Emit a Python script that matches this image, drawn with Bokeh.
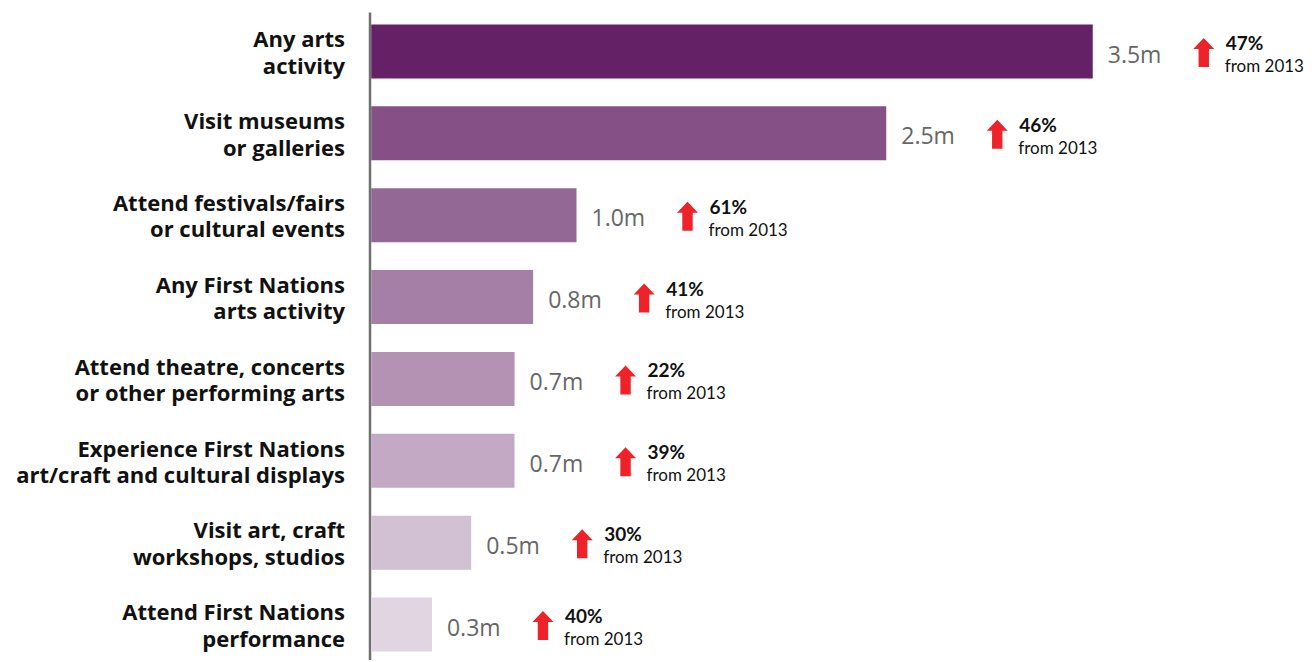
from bokeh.plotting import figure
from bokeh.models import Range1d, ColumnDataSource
from bokeh.core.properties import value
from bokeh.embed import file_html
from bokeh.resources import INLINE

categories = [
    "Any arts\nactivity",
    "Visit museums\nor galleries",
    "Attend festivals/fairs\nor cultural events",
    "Any First Nations\narts activity",
    "Attend theatre, concerts\nor other performing arts",
    "Experience First Nations\nart/craft and cultural displays",
    "Visit art, craft\nworkshops, studios",
    "Attend First Nations\nperformance",
]
values = [3.5, 2.5, 1.0, 0.79, 0.70, 0.70, 0.49, 0.30]
value_labels = ["3.5m", "2.5m", "1.0m", "0.8m", "0.7m", "0.7m", "0.5m", "0.3m"]
growth = ["47%", "46%", "61%", "41%", "22%", "39%", "30%", "40%"]
growth_note = "from 2013"
colors = ["#652165", "#855085", "#946895", "#A67FA6",
          "#B492B3", "#C3A9C4", "#D2C1D3", "#E0D5E1"]

W, H = 1310, 660
SX = 206.5          # px per million
SY = 81.86          # px per row
X0 = 369.5          # canvas px of zero
Y0 = 51.0           # canvas px of first row centre

n = len(values)
ys = list(range(n))

p = figure(width=W, height=H, output_backend="svg", toolbar_location=None,
           x_range=Range1d(-X0 / SX, (W - X0) / SX),
           y_range=Range1d((H - Y0) / SY, -Y0 / SY),
           min_border=0, min_border_left=0, min_border_right=0,
           min_border_top=0, min_border_bottom=0)
p.axis.visible = False
p.grid.visible = False
p.outline_line_color = None
p.background_fill_color = "white"
p.border_fill_color = "white"

# vertical axis line
p.segment(x0=[0], y0=[-(Y0 - 12) / SY], x1=[0], y1=[(H - Y0) / SY],
          line_color="#707070", line_width=2.5)

src = ColumnDataSource(dict(y=ys, v=values, c=colors, cat=categories,
                            vl=value_labels, g=growth,
                            note=[growth_note] * n))

p.hbar(y="y", left=0.006, right="v", height=54 / SY, fill_color="c",
       line_color=None, source=src)

# category labels
p.text(x=0, y="y", text="cat", source=src, x_offset=-25,
       text_align="right", text_baseline="middle",
       text_font=value("Open Sans"), text_font_style="bold",
       text_font_size="22px", text_color="#111111", text_line_height=0.88)

# value labels
p.text(x="v", y="y", text="vl", source=src, x_offset=15, y_offset=2,
       text_align="left", text_baseline="middle",
       text_font=value("Open Sans"), text_font_size="23px", text_color="#666666")

# growth labels
p.text(x="v", y="y", text="g", source=src, x_offset=133, y_offset=-9,
       text_align="left", text_baseline="middle",
       text_font=value("Lato"), text_font_style="bold",
       text_font_size="19px", text_color="#111111")
p.text(x="v", y="y", text="note", source=src, x_offset=132, y_offset=14,
       text_align="left", text_baseline="middle",
       text_font=value("Lato"), text_font_size="17px", text_color="#111111")

# arrows (pixel shape converted to data units)
shape = [(0, -14.5), (10.5, -3.5), (5.2, -3.5), (5.2, 14.5),
         (-5.2, 14.5), (-5.2, -3.5), (-10.5, -3.5)]
xs_list, ys_list = [], []
for v, y in zip(values, ys):
    xc = v + 111 / SX
    yc = y + 1 / SY
    xs_list.append([xc + dx / SX for dx, dy in shape])
    ys_list.append([yc + dy / SY for dx, dy in shape])
p.patches(xs=xs_list, ys=ys_list, fill_color="#EE2229", line_color=None)

open("out.html", "w").write(file_html(p, INLINE))
